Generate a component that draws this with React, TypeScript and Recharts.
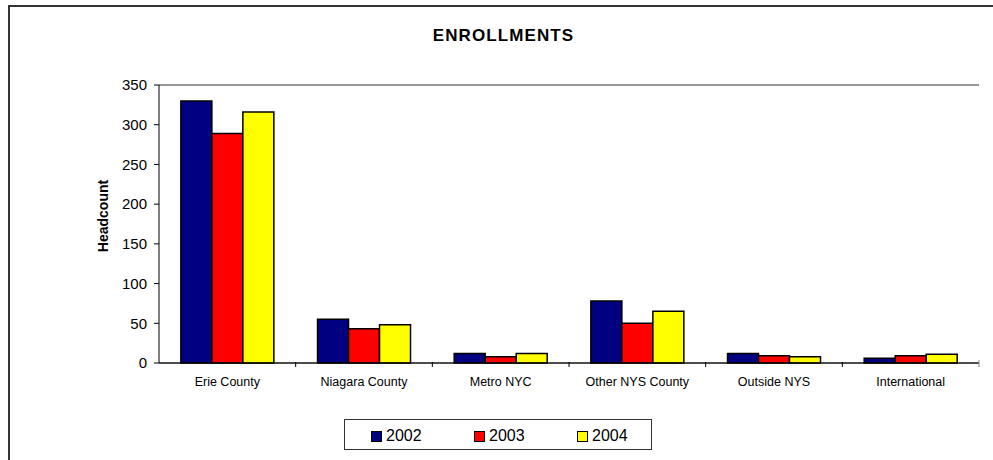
import React from "react";
import { BarChart, Bar, XAxis, YAxis, CartesianGrid, Legend } from "recharts";

const categories = ["Erie County", "Niagara County", "Metro NYC", "Other NYS County", "Outside NYS", "International"];
const values2002 = [330, 55, 12, 78, 12, 6];
const values2003 = [289, 43, 8, 50, 9, 9];
const values2004 = [316, 48, 12, 65, 8, 11];
const yTicks = [0, 50, 100, 150, 200, 250, 300, 350];
const seriesNames = ["2002", "2003", "2004"];
const seriesColors = ["#000080", "#FF0000", "#FFFF00"];

const data = categories.map((c, i) => ({
  name: c,
  "2002": values2002[i],
  "2003": values2003[i],
  "2004": values2004[i],
}));

const FONT = "Arial, 'Liberation Sans', Helvetica, sans-serif";
const PLOT_LEFT = 159;
const PLOT_RIGHT = 979;
const BAND = (PLOT_RIGHT - PLOT_LEFT) / categories.length;

const XTick = (props: any) => {
  const { x, payload, index } = props;
  const axisY = 362;
  const left = x - BAND / 2;
  const right = x + BAND / 2;
  return (
    <g>
      {index > 0 && <line x1={left} x2={left} y1={axisY} y2={axisY + 5} stroke="#000" strokeWidth={1} />}
      {index === categories.length - 1 && (
        <line x1={right} x2={right} y1={axisY - 2} y2={axisY + 5} stroke="#888" strokeWidth={1} />
      )}
      <text x={x} y={axisY + 24} textAnchor="middle" fontFamily={FONT} fontSize={12.5} fill="#000">
        {payload.value}
      </text>
    </g>
  );
};

const renderLegend = (props: any) => {
  const { payload } = props;
  const offsets = [26, 129, 232];
  return (
    <div
      style={{
        position: "relative",
        width: 306,
        height: 29,
        border: "1px solid #333",
        background: "#fff",
        fontFamily: FONT,
      }}
    >
      {(payload || []).map((p: any, i: number) => (
        <div key={p.value} style={{ position: "absolute", left: offsets[i], top: 8, display: "flex", alignItems: "center" }}>
          <div
            style={{
              width: 9,
              height: 9,
              background: p.color,
              border: "1px solid #000",
              marginRight: 4,
            }}
          />
          <span style={{ fontSize: 16, lineHeight: "16px", color: "#000" }}>{p.value}</span>
        </div>
      ))}
    </div>
  );
};

export default function App() {
  return (
    <div style={{ position: "absolute", left: 0, top: 0, width: 993, height: 460, overflow: "hidden", background: "#fff" }}>
      <div
        style={{
          position: "absolute",
          left: 8,
          top: 5,
          width: 1100,
          height: 600,
          border: "2px solid #333",
          boxSizing: "border-box",
        }}
      />
      <div
        style={{
          position: "absolute",
          left: 0,
          width: 1007,
          top: 26,
          textAlign: "center",
          fontFamily: FONT,
          fontWeight: "bold",
          fontSize: 17,
          letterSpacing: 1.1,
          color: "#000",
        }}
      >
        ENROLLMENTS
      </div>
      <div
        style={{
          position: "absolute",
          left: 103,
          top: 216,
          transform: "translate(-50%, -50%) rotate(-90deg)",
          fontFamily: FONT,
          fontWeight: "bold",
          fontSize: 14,
          color: "#000",
          whiteSpace: "nowrap",
        }}
      >
        Headcount
      </div>
      <div style={{ position: "absolute", left: 0, top: 0 }}>
        <BarChart
          width={993}
          height={460}
          data={data}
          margin={{ top: 85, right: 14, bottom: 0, left: 0 }}
          barCategoryGap="16%"
          barGap={0}
        >
          <CartesianGrid horizontal={true} vertical={false} stroke="#333" strokeWidth={1} />
          <XAxis
            dataKey="name"
            tickLine={false}
            axisLine={{ stroke: "#000", strokeWidth: 1 }}
            tick={<XTick />}
            interval={0}
            height={66}
          />
          <YAxis
            yAxisId="left"
            width={PLOT_LEFT}
            domain={[0, 350]}
            ticks={yTicks}
            interval={0}
            tickSize={5}
            tickMargin={7}
            axisLine={{ stroke: "#000", strokeWidth: 1 }}
            tickLine={{ stroke: "#000" }}
            tick={{ fontFamily: FONT, fontSize: 15, fill: "#000" }}
          />
          <YAxis
            yAxisId="right"
            orientation="right"
            width={0}
            domain={[0, 350]}
            tick={false}
            tickLine={false}
            axisLine={{ stroke: "#999", strokeWidth: 1 }}
          />
          <Legend
            content={renderLegend}
            wrapperStyle={{ position: "absolute", left: 344, top: 419, width: 308, height: 31, bottom: "auto" }}
          />
          {seriesNames.map((s, i) => (
            <Bar
              key={s}
              yAxisId="left"
              dataKey={s}
              name={s}
              fill={seriesColors[i]}
              stroke="#000"
              strokeWidth={1.5}
              isAnimationActive={false}
            />
          ))}
        </BarChart>
      </div>
    </div>
  );
}
